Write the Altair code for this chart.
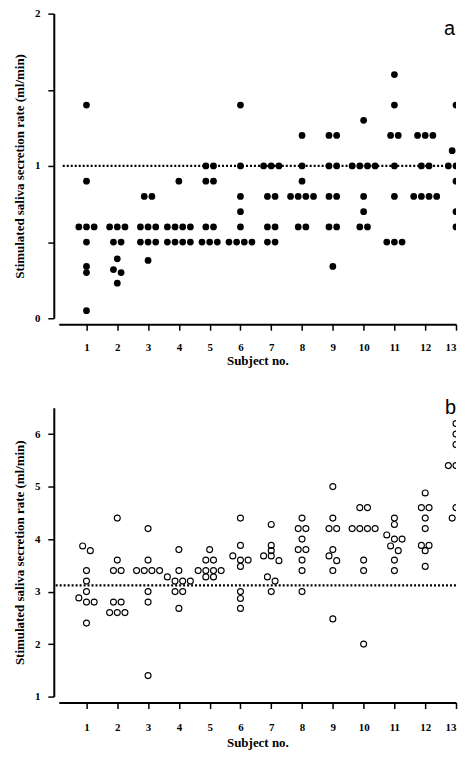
import altair as alt
import pandas as pd

subjects = list(range(1, 14))

# Panel a: stimulated saliva secretion rate (ml/min) per subject
rate_a = [
    [1.4, 0.9, 0.6, 0.6, 0.6, 0.5, 0.34, 0.3, 0.05],
    [0.6, 0.6, 0.6, 0.5, 0.5, 0.39, 0.32, 0.3, 0.23],
    [0.8, 0.8, 0.6, 0.6, 0.6, 0.5, 0.5, 0.5, 0.38],
    [0.9, 0.6, 0.6, 0.6, 0.6, 0.5, 0.5, 0.5, 0.5],
    [1.0, 1.0, 0.9, 0.9, 0.6, 0.6, 0.5, 0.5, 0.5],
    [1.4, 1.0, 0.8, 0.7, 0.6, 0.5, 0.5, 0.5, 0.5],
    [1.0, 1.0, 1.0, 0.8, 0.8, 0.6, 0.6, 0.5, 0.5],
    [1.2, 1.0, 0.9, 0.8, 0.8, 0.8, 0.8, 0.6, 0.6],
    [1.2, 1.2, 1.0, 1.0, 0.8, 0.8, 0.6, 0.6, 0.34],
    [1.3, 1.0, 1.0, 1.0, 1.0, 0.8, 0.7, 0.6, 0.6],
    [1.6, 1.4, 1.2, 1.2, 1.0, 0.8, 0.5, 0.5, 0.5],
    [1.2, 1.2, 1.2, 1.0, 1.0, 0.8, 0.8, 0.8, 0.8],
    [1.4, 1.1, 1.1, 1.0, 1.0, 1.0, 0.9, 0.7, 0.6],
]

# Panel b
rate_b = [
    [3.87, 3.78, 3.4, 3.2, 3.0, 2.88, 2.8, 2.8, 2.4],
    [4.4, 3.6, 3.4, 3.4, 2.8, 2.8, 2.6, 2.6, 2.6],
    [4.2, 3.6, 3.4, 3.4, 3.4, 3.4, 3.0, 2.8, 1.4],
    [3.8, 3.4, 3.28, 3.2, 3.2, 3.2, 3.0, 3.0, 2.68],
    [3.8, 3.6, 3.6, 3.4, 3.4, 3.4, 3.4, 3.28, 3.28],
    [4.4, 3.88, 3.68, 3.6, 3.6, 3.48, 3.0, 2.87, 2.68],
    [4.28, 3.88, 3.78, 3.68, 3.68, 3.59, 3.28, 3.2, 3.0],
    [4.4, 4.2, 4.2, 4.0, 3.8, 3.8, 3.6, 3.4, 3.0],
    [5.0, 4.4, 4.2, 4.2, 3.8, 3.68, 3.59, 3.4, 2.48],
    [4.6, 4.6, 4.2, 4.2, 4.2, 4.2, 3.6, 3.4, 2.0],
    [4.4, 4.28, 4.08, 4.0, 4.0, 3.87, 3.78, 3.6, 3.4],
    [4.88, 4.6, 4.6, 4.4, 4.2, 3.88, 3.88, 3.78, 3.48],
    [6.2, 6.0, 5.8, 5.4, 5.4, 5.4, 4.6, 4.4, 4.4],
]

ref_a = 1.0
ref_b = 3.12

W = 399
H_A = 306
H_B = 290
X_DOMAIN = [0.1, 13]
PX_PER_X = W / (X_DOMAIN[1] - X_DOMAIN[0])


def swarm(values_by_subject, px_per_y, gap_px=5.2, step_px=7.7):
    rows = []
    for s, vals in zip(subjects, values_by_subject):
        vs = sorted(vals, reverse=True)
        clusters = [[vs[0]]]
        for v in vs[1:]:
            if (clusters[-1][-1] - v) * px_per_y < gap_px:
                clusters[-1].append(v)
            else:
                clusters.append([v])
        for c in clusters:
            n = len(c)
            for i, v in enumerate(c):
                off = (i - (n - 1) / 2) * step_px / PX_PER_X
                rows.append({"subject": s, "xpos": s + off, "rate": v})
    return pd.DataFrame(rows)


df_a = swarm(rate_a, H_A / 2.0)
df_b = swarm(rate_b, H_B / 5.5)

SERIF = "Liberation Serif"
YTITLE = "Stimulated saliva secretion rate (ml/min)"
INT_LABEL = "datum.value % 1 == 0 ? format(datum.value, 'd') : ''"

xscale = alt.Scale(domain=X_DOMAIN, nice=False, zero=False)


def panel(df, ydomain, yticks, ref, ref_from, letter, letter_x, letter_y, filled,
          height, lab_pad, title_pad):
    x_axis = alt.Axis(values=subjects, labelExpr=INT_LABEL, title="Subject no.",
                      offset=6, labelPadding=lab_pad, titlePadding=title_pad,
                      labelFlush=True)
    if filled:
        mark = alt.MarkDef(type="point", filled=True, shape="circle", size=46,
                           color="black", opacity=1, clip=True)
    else:
        mark = alt.MarkDef(type="point", filled=False, shape="circle", size=36,
                           color="black", strokeWidth=1.1, opacity=1, clip=True)
    pts = alt.Chart(df, mark=mark).encode(
        x=alt.X("xpos:Q", scale=xscale, axis=x_axis),
        y=alt.Y("rate:Q", scale=alt.Scale(domain=ydomain, nice=False, zero=False),
                axis=alt.Axis(values=yticks, labelExpr=INT_LABEL, title=YTITLE,
                              offset=5, labelPadding=8, titlePadding=8)),
    )
    rule = alt.Chart(pd.DataFrame({"x": [ref_from], "x2": [13], "y": [ref]})).mark_rule(
        color="black", strokeWidth=2.2, strokeDash=[2, 2]
    ).encode(x=alt.X("x:Q", scale=xscale, axis=x_axis), x2="x2:Q",
             y=alt.Y("y:Q", scale=alt.Scale(domain=ydomain, nice=False, zero=False)))
    lab = alt.Chart(pd.DataFrame({"t": [letter]})).mark_text(
        font="Liberation Sans", fontSize=20, align="left", baseline="alphabetic",
        color="black"
    ).encode(x=alt.value(letter_x), y=alt.value(letter_y), text="t:N")
    return alt.layer(pts, rule, lab).properties(width=W, height=height)


panel_a = panel(df_a, [0, 2], [0, 0.5, 1, 1.5, 2], ref_a, 0.23, "a", 387, 21, True,
                H_A, 11, 2)
panel_b = panel(df_b, [1, 6.5], [1, 2, 3, 4, 5, 6], ref_b, 0.0, "b", 388, 6, False,
                H_B, 13, 4)

chart = alt.vconcat(panel_a, panel_b, spacing=31).properties(
    padding={"left": 5, "top": -2, "right": 0, "bottom": 0},
    background="white",
).configure_view(stroke=None).configure_axis(
    grid=False, labelOverlap=False, tickSize=6,
    domainColor="black", domainWidth=2, tickColor="black", tickWidth=1.5,
    labelFont=SERIF, labelFontWeight="bold", labelFontSize=11, labelColor="black",
    titleFont=SERIF, titleFontWeight="bold", titleFontSize=13, titleColor="black",
)

chart.save("out.html", embed_options={"renderer": "svg", "actions": False})
